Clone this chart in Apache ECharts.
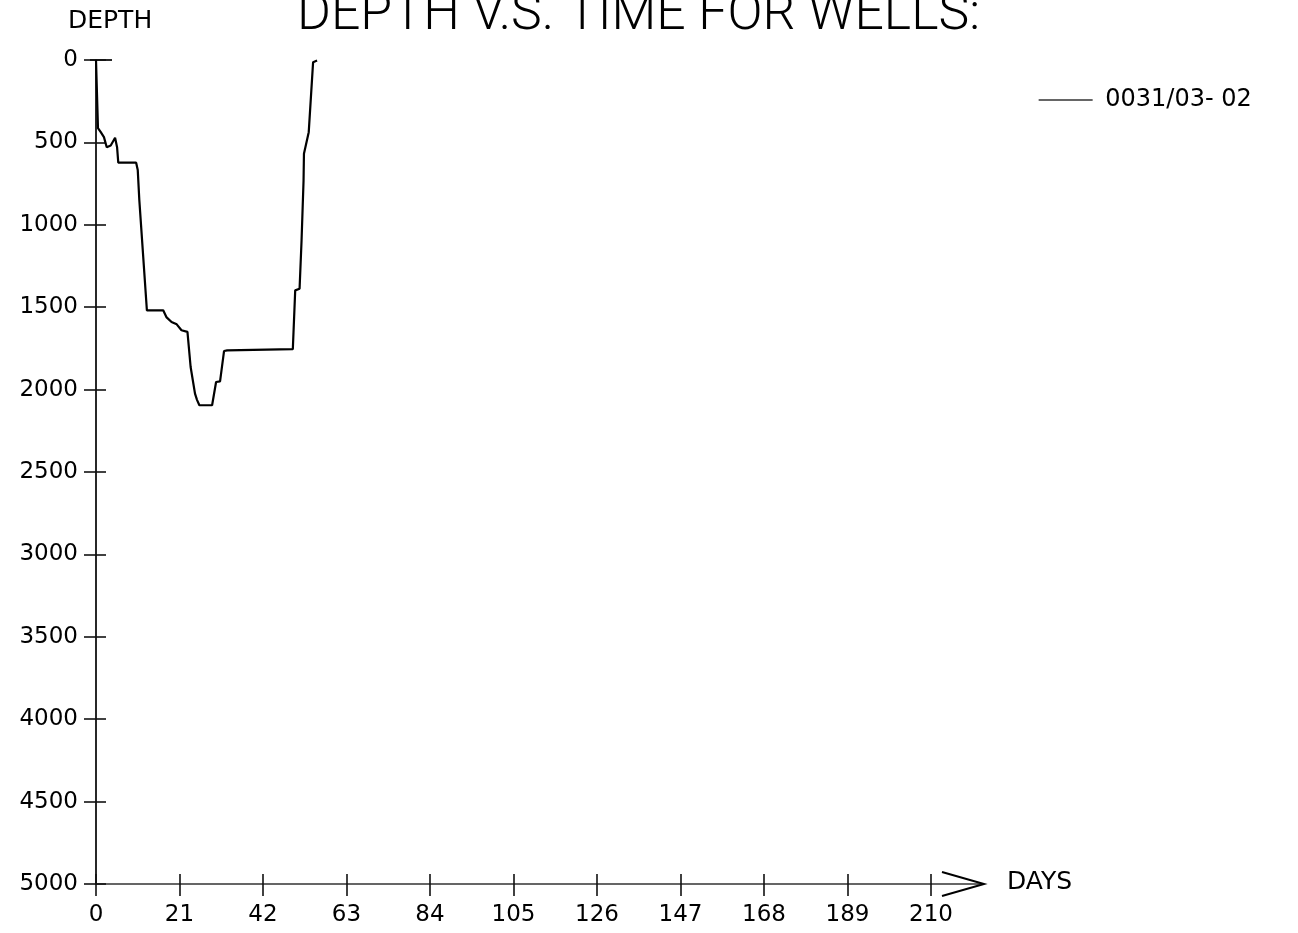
<!DOCTYPE html>
<html><head><meta charset="utf-8">
<script src="https://cdn.jsdelivr.net/npm/echarts@6/dist/echarts.min.js"></script>
<style>html,body{margin:0;padding:0;background:#fff}#c{width:1298px;height:933px}</style>
</head><body><div id="c"></div>
<script>
const TITLE = 'DEPTH V.S. TIME FOR WELLS:';
const Y_NAME = 'DEPTH';
const X_NAME = 'DAYS';
const WELL = '0031/03- 02';
const X_MIN = 0, X_MAX = 210, X_STEP = 21;
const Y_MIN = 0, Y_MAX = 5000, Y_STEP = 500;
const days   = [0, 0.5, 1.2, 2.0, 2.7, 3.7, 4.8, 5.3, 5.6, 10.1, 10.5, 10.9, 12.8, 16.9, 17.7, 19.0, 20.3, 21.5, 23.0, 23.8, 24.9, 25.4, 26.0, 29.2, 30.2, 31.2, 32.2, 33.0, 49.5, 50.1, 51.2, 51.7, 52.2, 52.3, 53.5, 54.6, 55.6];
const depths = [0, 414, 438, 468, 529, 519, 472, 529, 623, 623, 668, 852, 1519, 1519, 1560, 1590, 1604, 1640, 1650, 1863, 2024, 2062, 2095, 2095, 1954, 1950, 1766, 1762, 1755, 1398, 1388, 1094, 731, 569, 438, 13, 3];

const FONT = 'DejaVu Sans';
const chart = echarts.init(document.getElementById('c'), null, {renderer: 'canvas'});

const tickStyle = {color: '#111', width: 1.6};
const plain = v => String(v);
const baseX = {type: 'value', min: X_MIN, max: X_MAX, interval: X_STEP, position: 'bottom', splitLine: {show: false}};
const baseY = {type: 'value', min: Y_MIN, max: Y_MAX, interval: Y_STEP, inverse: true, position: 'left', splitLine: {show: false}};

const titleSize = 52;
const titleFont = '300 ' + titleSize + 'px Roboto';
const ctx = document.createElement('canvas').getContext('2d');
ctx.font = titleFont;
const tw = ctx.measureText(TITLE).width;
const titleScale = 683 / tw;

chart.setOption({
  animation: false,
  backgroundColor: '#fff',
  grid: {left: 96, top: 60, width: 835, height: 824, containLabel: false},
  legend: {
    left: 1033, top: 83, itemWidth: 54, itemHeight: 14,
    data: [WELL],
    lineStyle: {color: '#333', width: 1.3},
    itemStyle: {opacity: 0},
    formatter: n => ' ' + n,
    textStyle: {fontSize: 24, color: '#000', fontFamily: FONT}
  },
  xAxis: [
    Object.assign({}, baseX, {
      axisLine: {onZero: false, lineStyle: {color: '#333', width: 1.5}},
      axisTick: {length: 12, lineStyle: tickStyle},
      axisLabel: {margin: 20, fontSize: 23, color: '#000', fontFamily: FONT, formatter: plain}
    }),
    Object.assign({}, baseX, {
      axisLine: {show: false, onZero: false},
      axisTick: {inside: true, length: 10, lineStyle: tickStyle},
      axisLabel: {show: false}
    })
  ],
  yAxis: [
    Object.assign({}, baseY, {
      axisLine: {onZero: false, lineStyle: {color: '#111', width: 1.8}},
      axisTick: {length: 12, lineStyle: tickStyle},
      axisLabel: {margin: 18, fontSize: 23, color: '#000', fontFamily: FONT, formatter: plain}
    }),
    Object.assign({}, baseY, {
      axisLine: {show: false, onZero: false},
      axisTick: {inside: true, length: 10, lineStyle: tickStyle},
      axisLabel: {show: false}
    })
  ],
  series: [{
    name: WELL, type: 'line', xAxisIndex: 0, yAxisIndex: 0,
    symbol: 'none', smooth: false,
    lineStyle: {color: '#000', width: 2.2},
    itemStyle: {color: '#000'},
    data: days.map((d, i) => [d, depths[i]])
  }]
});

const p = chart.convertToPixel({xAxisIndex: 0, yAxisIndex: 0}, [X_MAX, Y_MAX]);
const p0 = chart.convertToPixel({xAxisIndex: 0, yAxisIndex: 0}, [X_MIN, Y_MIN]);
chart.setOption({
  graphic: [
    {type: 'line', shape: {x1: p[0], y1: p[1], x2: p[0] + 53, y2: p[1]}, style: {stroke: '#333', lineWidth: 1.5}},
    {type: 'polyline', shape: {points: [[p[0] + 11, p[1] - 12], [p[0] + 53, p[1]], [p[0] + 11, p[1] + 12]]}, style: {stroke: '#000', lineWidth: 2, fill: null}},
    {type: 'line', shape: {x1: p0[0] - 6, y1: p0[1], x2: p0[0] + 16, y2: p0[1]}, style: {stroke: '#111', lineWidth: 1.8}},
    {type: 'text', x: 1007, y: 882, style: {text: X_NAME, fontSize: 25, fontFamily: FONT, fill: '#000', verticalAlign: 'middle', align: 'left'}},
    {type: 'text', x: 68, y: 21, style: {text: Y_NAME, fontSize: 25, fontFamily: FONT, fill: '#000', verticalAlign: 'middle', align: 'left'}},
    {type: 'text', x: 297, y: 16, scaleX: titleScale, style: {text: TITLE, font: titleFont, fill: '#000', verticalAlign: 'middle', align: 'left'}}
  ]
});
</script>
</body></html>
